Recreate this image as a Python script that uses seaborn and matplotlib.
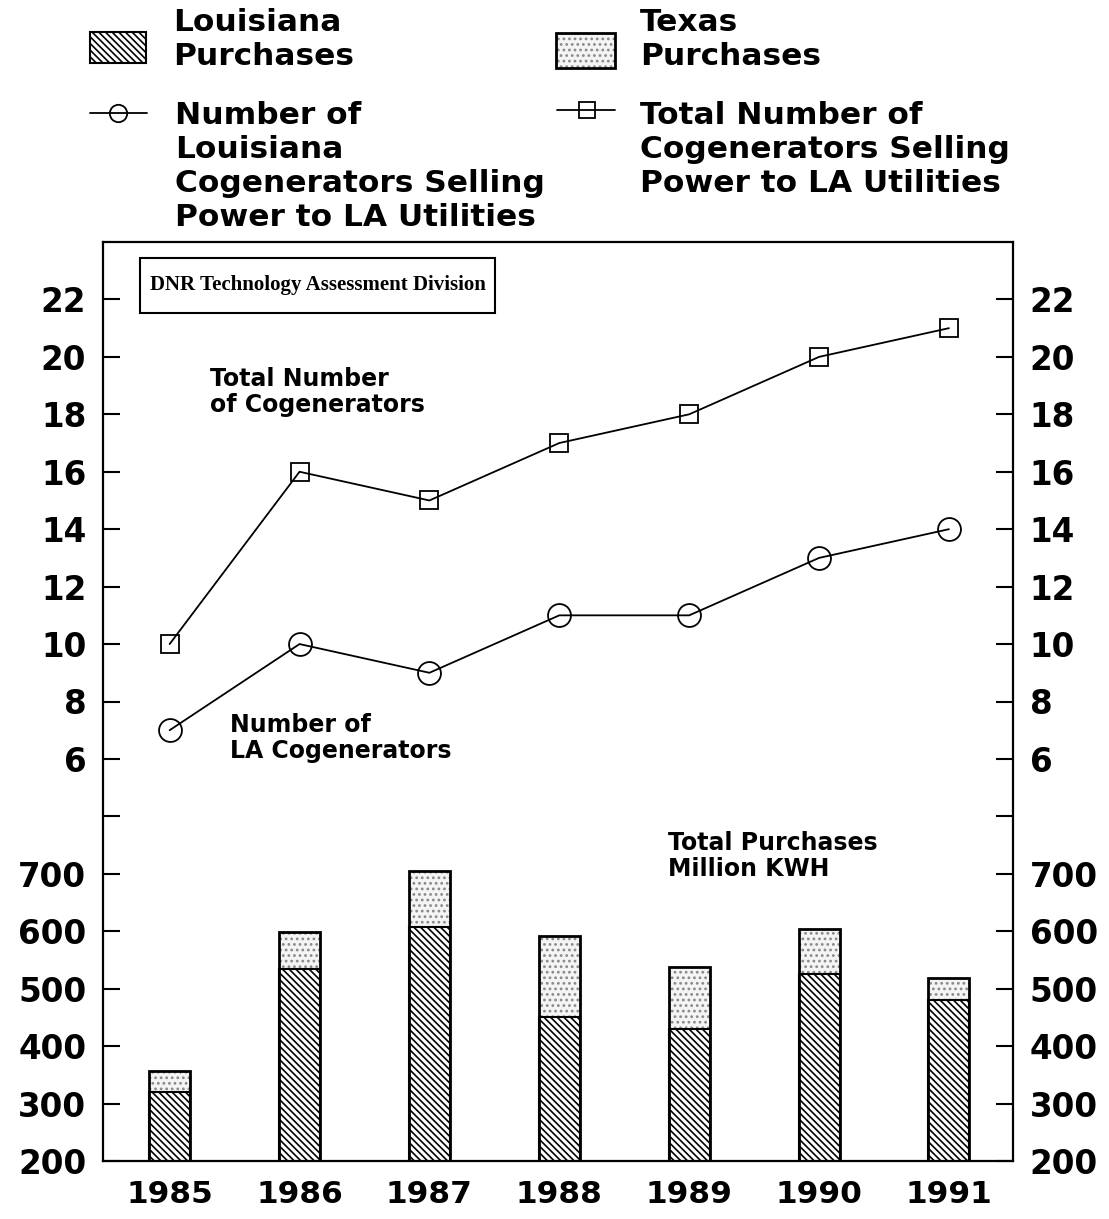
import numpy as np
import pandas as pd
import matplotlib.pyplot as plt
from matplotlib.patches import Rectangle
import seaborn as sns

# values
years = ["1985", "1986", "1987", "1988", "1989", "1990", "1991"]
la_purchases = [320, 535, 608, 450, 430, 525, 480]        # million kWh
total_purchases = [357, 598, 705, 592, 537, 604, 518]     # LA + Texas
la_cogens = [7, 10, 9, 11, 11, 13, 14]
total_cogens = [10, 16, 15, 17, 18, 20, 21]

kwh_ticks = [200, 300, 400, 500, 600, 700, 800]
kwh_labels = ["200", "300", "400", "500", "600", "700", ""]
count_ticks = [6, 8, 10, 12, 14, 16, 18, 20, 22]

sns.set_theme(style="white")
plt.rcParams["font.family"] = ["DejaVu Sans"]
plt.rcParams["font.weight"] = "bold"
for key in ["text.color", "axes.labelcolor", "xtick.color", "ytick.color", "axes.edgecolor"]:
    plt.rcParams[key] = "black"
plt.rcParams["hatch.linewidth"] = 1.2

df = pd.DataFrame({
    "year": years,
    "la": la_purchases,
    "total": total_purchases,
    "la_c": la_cogens,
    "total_c": total_cogens,
})

W, H = 1109, 1219
fig = plt.figure(figsize=(W / 100, H / 100), dpi=100)

# legend strip drawn in pixel coordinates
leg = fig.add_axes([0, 0, 1, 1])
leg.set_xlim(0, W)
leg.set_ylim(H, 0)
leg.axis("off")

diag = "\\" * 5
leg.add_patch(Rectangle((90, 32), 56, 31, facecolor="white", edgecolor="black",
                        hatch=diag, lw=1.5))
leg.add_patch(Rectangle((556, 33), 59, 35, facecolor="#f4f4f4", edgecolor="#888888",
                        hatch="...", lw=0))
leg.add_patch(Rectangle((556, 33), 59, 35, fill=False, edgecolor="black", lw=2))
leg.plot([90, 147], [113, 113], color="black", lw=1.3)
leg.plot([118], [113], marker="o", ms=12.5, mfc="none", mec="black", mew=1.3)
leg.plot([557, 615], [110, 110], color="black", lw=1.3)
leg.plot([587], [110], marker="s", ms=12, mfc="none", mec="black", mew=1.3)

leg_kw = dict(fontsize=22.5, fontweight="bold", va="top", ha="left", linespacing=1.22)
leg.text(173, 8, "Louisiana\nPurchases", **leg_kw)
leg.text(640, 8, "Texas\nPurchases", **leg_kw)
leg.text(175, 101, "Number of\nLouisiana\nCogenerators Selling\nPower to LA Utilities", **leg_kw)
leg.text(640, 101, "Total Number of\nCogenerators Selling\nPower to LA Utilities", **leg_kw)

# main axes
ax = fig.add_axes([103 / W, 58 / H, 910 / W, 919 / H])

bar_w = 0.316
sns.barplot(data=df, x="year", y="total", ax=ax, width=bar_w, color="#f4f4f4",
            edgecolor="#888888", hatch="...", linewidth=0, saturation=1, errorbar=None)
sns.barplot(data=df, x="year", y="la", ax=ax, width=bar_w, color="white",
            edgecolor="black", hatch=diag, linewidth=1.5, saturation=1, errorbar=None)
sns.barplot(data=df, x="year", y="total", ax=ax, width=bar_w, color="black",
            fill=False, linewidth=2, saturation=1, errorbar=None)

ax2 = ax.twinx()
sns.pointplot(data=df, x="year", y="total_c", ax=ax2, color="black", markers="s",
              linestyles="-", markersize=13.5, linewidth=1.3, markeredgewidth=1.3,
              markerfacecolor="none", errorbar=None)
sns.pointplot(data=df, x="year", y="la_c", ax=ax2, color="black", markers="o",
              linestyles="-", markersize=16.5, linewidth=1.3, markeredgewidth=1.3,
              markerfacecolor="none", errorbar=None)

ax.set_xlim(-0.513, 6.493)
ax.set_ylim(200, 1800)
ax2.set_ylim(-8, 24)
ax.set_xlabel("")
ax.set_ylabel("")
ax2.set_ylabel("")

tick_kw = dict(axis="y", direction="in", length=12, width=1.5, left=True, right=True,
               labelleft=True, labelright=True, labelsize=23.5, pad=12)
ax.set_yticks(kwh_ticks, kwh_labels)
ax.tick_params(**tick_kw)
ax2.set_yticks(count_ticks, [str(c) for c in count_ticks])
ax2.tick_params(**tick_kw)
ax.tick_params(axis="x", length=0, labelsize=22.5, pad=14)
for t in ax.get_xticklabels() + ax.get_yticklabels() + ax2.get_yticklabels():
    t.set_fontweight("bold")

for s in ax.spines.values():
    s.set_visible(True)
    s.set_linewidth(1.6)
    s.set_color("black")
for s in ax2.spines.values():
    s.set_visible(False)

# annotations
ax.add_patch(Rectangle((0.0407, 0.9227), 0.390, 0.0598, transform=ax.transAxes,
                       fill=False, edgecolor="black", lw=1.5, zorder=5))
ax.text(0.2357, 0.9527, "DNR Technology Assessment Division", transform=ax.transAxes,
        ha="center", va="center", fontsize=15, fontweight="bold",
        family=["Liberation Serif", "DejaVu Serif"], zorder=6)

note_kw = dict(transform=ax.transAxes, fontsize=17, fontweight="bold", va="top", ha="left",
               linespacing=1.1)
ax.text(0.1176, 0.864, "Total Number\nof Cogenerators", **note_kw)
ax.text(0.1396, 0.487, "Number of\nLA Cogenerators", **note_kw)
ax.text(0.6209, 0.359, "Total Purchases\nMillion KWH", **note_kw)

fig.savefig("out.png", dpi=100)
